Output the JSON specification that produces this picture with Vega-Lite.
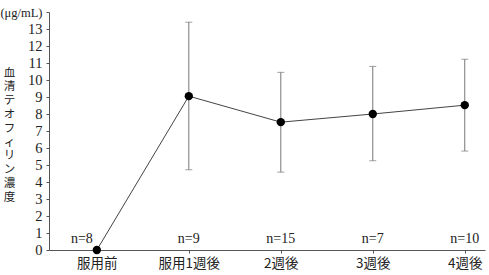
{
  "$schema": "https://vega.github.io/schema/vega-lite/v6.json",
  "width": 436,
  "height": 238,
  "autosize": "none",
  "padding": {"left": 49, "top": 12, "right": 4, "bottom": 25},
  "background": "white",
  "config": {
    "view": {"stroke": null},
    "font": "Liberation Serif, Noto Sans CJK JP",
    "axis": {"labelFont": "Liberation Serif, Noto Sans CJK JP", "titleFont": "Noto Sans CJK JP", "labelColor": "#222", "domainColor": "#555", "tickColor": "#555", "grid": false},
    "axisY": {"labelExpr": "datum.value == 14 ? '(μg/mL)' : datum.label", "tickSize": 3, "labelFontSize": 14.5, "labelPadding": 4, "labelOverlap": false, "labelFlush": false, "labelBound": false}
  },
  "data": {
    "values": [
      {"t": 0, "v": 0, "lo": null, "hi": null, "n": "n=8"},
      {"t": 1, "v": 9.05, "lo": 4.72, "hi": 13.4, "n": "n=9"},
      {"t": 2, "v": 7.52, "lo": 4.58, "hi": 10.45, "n": "n=15"},
      {"t": 3, "v": 8.0, "lo": 5.25, "hi": 10.8, "n": "n=7"},
      {"t": 4, "v": 8.52, "lo": 5.82, "hi": 11.22, "n": "n=10"}
    ]
  },
  "encoding": {
    "x": {"field": "t", "type": "quantitative", "scale": {"domain": [-0.52, 4.22], "nice": false, "zero": false},
      "axis": {"values": [0, 1, 2, 3, 4], "labelExpr": "['服用前','服用1週後','2週後','3週後','4週後'][datum.value]", "title": null, "tickSize": 3, "labelFontSize": 13.5, "labelPadding": 3, "labelFont": "Noto Sans CJK JP", "labelOverlap": false, "labelFlush": false}}
  },
  "layer": [
    {
      "mark": {"type": "line", "color": "#444", "strokeWidth": 1},
      "encoding": {
        "y": {"field": "v", "type": "quantitative", "scale": {"domain": [0, 14], "nice": false},
          "axis": {"values": [0,1,2,3,4,5,6,7,8,9,10,11,12,13,14],
            "labelFontSize": {"expr": "datum.value == 14 ? 12.5 : 14.5"},
            "title": ["血","清","テ","オ","フ","ィ","リ","ン","濃","度"], "titleAngle": 0, "titleAlign": "center", "titleBaseline": "top", "titleX": -40, "titleY": 55, "titleLineHeight": 13.8, "titleFontSize": 11.5, "titleFontWeight": "normal", "titleColor": "#222"}}
      }
    },
    {
      "transform": [{"filter": "datum.lo != null"}],
      "mark": {"type": "rule", "color": "#777", "strokeWidth": 1},
      "encoding": {
        "y": {"field": "lo", "type": "quantitative", "axis": {"values": [0,1,2,3,4,5,6,7,8,9,10,11,12,13,14]}},
        "y2": {"field": "hi"}
      }
    },
    {
      "transform": [{"filter": "datum.lo != null"}],
      "mark": {"type": "tick", "color": "#777", "size": 7, "thickness": 1, "orient": "horizontal"},
      "encoding": {
        "y": {"field": "lo", "type": "quantitative", "axis": {"values": [0,1,2,3,4,5,6,7,8,9,10,11,12,13,14]}}
      }
    },
    {
      "transform": [{"filter": "datum.lo != null"}],
      "mark": {"type": "tick", "color": "#777", "size": 7, "thickness": 1, "orient": "horizontal"},
      "encoding": {
        "y": {"field": "hi", "type": "quantitative", "axis": {"values": [0,1,2,3,4,5,6,7,8,9,10,11,12,13,14]}}
      }
    },
    {
      "mark": {"type": "point", "filled": true, "color": "#000", "size": 70, "opacity": 1},
      "encoding": {
        "y": {"field": "v", "type": "quantitative", "axis": {"values": [0,1,2,3,4,5,6,7,8,9,10,11,12,13,14]}}
      }
    },
    {
      "transform": [{"filter": "datum.t == 0"}],
      "mark": {"type": "text", "fontSize": 14, "dy": -11, "dx": -15, "color": "#222", "font": "Liberation Serif"},
      "encoding": {
        "y": {"datum": 0, "type": "quantitative", "axis": {"values": [0,1,2,3,4,5,6,7,8,9,10,11,12,13,14]}},
        "text": {"field": "n"}
      }
    },
    {
      "transform": [{"filter": "datum.t > 0"}],
      "mark": {"type": "text", "fontSize": 14, "dy": -11, "color": "#222", "font": "Liberation Serif"},
      "encoding": {
        "y": {"datum": 0, "type": "quantitative", "axis": {"values": [0,1,2,3,4,5,6,7,8,9,10,11,12,13,14]}},
        "text": {"field": "n"}
      }
    }
  ]
}
